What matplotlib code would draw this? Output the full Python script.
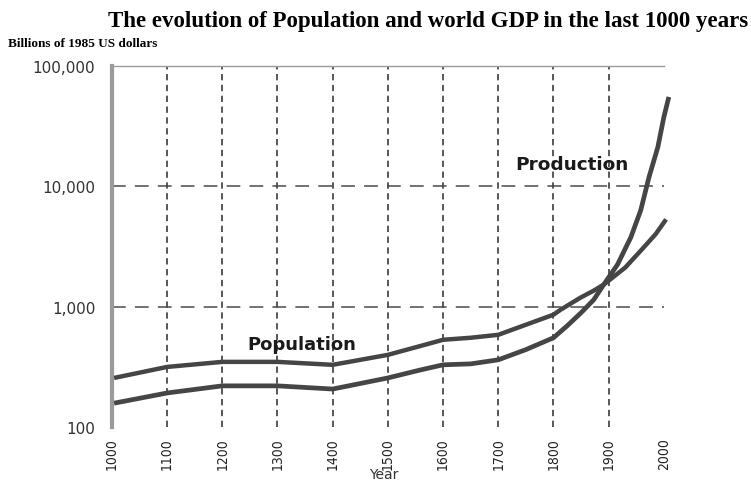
import matplotlib
matplotlib.use('Agg')
import matplotlib.pyplot as plt
from matplotlib.ticker import FixedLocator, FuncFormatter, NullLocator

# values (log scale)
pop_years = [1004, 1100, 1200, 1300, 1400, 1500, 1560, 1600, 1650, 1700, 1800, 1813, 1849, 1873, 1891, 1930, 1960, 1985, 2004]
pop_values = [256, 316, 348, 348, 329, 398, 473, 531, 552, 584, 858, 944, 1189, 1360, 1525, 2113, 2985, 4000, 5310]

prod_years = [1004, 1100, 1200, 1300, 1400, 1500, 1560, 1600, 1650, 1700, 1750, 1800, 1825, 1850, 1873, 1891, 1916, 1940, 1958, 1973, 1989, 2000, 2009]
prod_values = [158, 192, 220, 220, 207, 256, 299, 329, 335, 362, 440, 552, 695, 891, 1143, 1525, 2239, 3758, 6310, 11890, 21100, 37600, 55200]

x_ticks = [1000, 1100, 1200, 1300, 1400, 1500, 1600, 1700, 1800, 1900, 2000]
y_ticks = [100, 1000, 10000, 100000]
y_labels = ['100', '1,000', '10,000', '100,000']

line_col = '#454545'

fig = plt.figure(figsize=(7.51, 4.81), dpi=100)
ax = fig.add_axes([0.149, 0.110, 0.735, 0.751])

ax.plot(pop_years, pop_values, color=line_col, lw=3.2, solid_capstyle='butt',
        solid_joinstyle='round', clip_on=False, zorder=3)
ax.plot(prod_years, prod_values, color=line_col, lw=3.4, solid_capstyle='butt',
        solid_joinstyle='round', clip_on=False, zorder=3)

ax.set_yscale('log')
ax.set_ylim(100, 100000)
ax.set_xlim(1000, 2000)

# vertical grid: short dashes, horizontal grid: long dashes
for yr in x_ticks[1:-1]:
    ax.axvline(yr, color='#4a4a4a', lw=1.3, ls=(0, (3.5, 2.5)), zorder=1)
for v in [1000, 10000]:
    ax.axhline(v, color='#4a4a4a', lw=1.1, ls=(0, (9, 6)), zorder=1)

ax.yaxis.set_major_locator(FixedLocator(y_ticks))
ax.yaxis.set_minor_locator(NullLocator())
ax.yaxis.set_major_formatter(FuncFormatter(
    lambda v, p: y_labels[y_ticks.index(int(round(v)))] if int(round(v)) in y_ticks else ''))
ax.set_xticks(x_ticks)
ax.set_xticklabels([str(t) for t in x_ticks], rotation=90, fontsize=10,
                   color='#222222', fontstretch='condensed')
ax.tick_params(axis='y', length=0, pad=12, labelsize=11, labelcolor='#333333')
ax.tick_params(axis='x', length=0, pad=7)

for s in ['right', 'bottom']:
    ax.spines[s].set_visible(False)
ax.spines['left'].set_color('#9a9a9a')
ax.spines['left'].set_linewidth(3.0)
ax.spines['top'].set_color('#9a9a9a')
ax.spines['top'].set_linewidth(1.0)

fig.text(384 / 751, 0.013, 'Year', fontsize=10, color='#333333', ha='center', va='center')

ax.text(1834, 15250, 'Production', fontsize=13.3, fontweight='bold', color='#1a1a1a', ha='center', va='center')
ax.text(1344, 492, 'Population', fontsize=13.0, fontweight='bold', color='#1a1a1a', ha='center', va='center')

fig.text(0.570, 0.956, 'The evolution of Population and world GDP in the last 1000 years',
         family='Liberation Serif', fontweight='bold', fontsize=16.5, ha='center', va='center')
fig.text(8 / 751, 1 - 44 / 481, 'Billions of 1985 US dollars',
         family='Liberation Serif', fontweight='bold', fontsize=9.5, ha='left', va='center')

fig.savefig('out.png', dpi=100)
